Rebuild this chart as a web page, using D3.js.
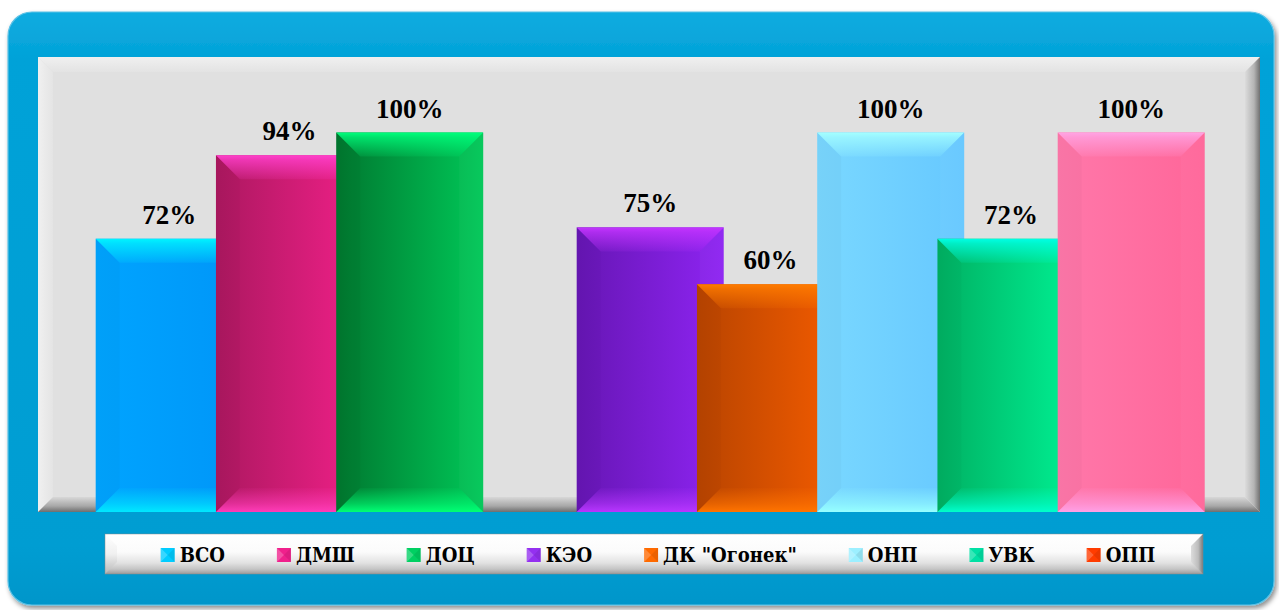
<!DOCTYPE html>
<html>
<head>
<meta charset="utf-8">
<script src="https://cdn.jsdelivr.net/npm/d3@7"></script>
<style>
  html, body { margin: 0; padding: 0; background: #ffffff; }
  svg { display: block; }
</style>
</head>
<body>
<script>
// ---- data ----
const series = ["ВСО", "ДМШ", "ДОЦ", "КЭО", "ДК \"Огонек\"", "ОНП", "УВК", "ОПП"];
const values = [0.72, 0.94, 1.00, 0.75, 0.60, 1.00, 0.72, 1.00];
// slot order along the axis (one empty slot between the two groups)
const slots = ["ВСО", "ДМШ", "ДОЦ", "_gap_", "КЭО", "ДК \"Огонек\"", "ОНП", "УВК", "ОПП"];
// bar colours: [bodyLeft, bodyRight, topBevel, bottomBevel]
const barColors = [
  ["#00a4ff", "#0096f8", "#00f4ff", "#00e8ff"],
  ["#ac1860", "#f02088", "#ff40cc", "#ff3cb8"],
  ["#00772f", "#00c858", "#00ff7c", "#00ff74"],
  ["#6616b4", "#8e24f2", "#c434ff", "#b836ff"],
  ["#b84400", "#f45c00", "#ff7c00", "#ff7400"],
  ["#7ad8ff", "#66c8ff", "#a4ffff", "#96ffff"],
  ["#00b062", "#00f496", "#00ffe4", "#00ffcc"],
  ["#ff78aa", "#ff6699", "#ffa4e4", "#ffa0e6"]
];
const legendColors = ["#00ccff", "#f0208c", "#00d062", "#9430f0", "#ff6a00", "#9cefff", "#00e0a4", "#ff3c00"];

const W = 1279, H = 610;
const svg = d3.select("body").append("svg").attr("width", W).attr("height", H);
const defs = svg.append("defs");

function linGrad(id, x1, y1, x2, y2, stops) {
  const g = defs.append("linearGradient").attr("id", id)
    .attr("x1", x1).attr("y1", y1).attr("x2", x2).attr("y2", y2);
  stops.forEach(s => g.append("stop").attr("offset", s[0]).attr("stop-color", s[1]).attr("stop-opacity", s[2] == null ? 1 : s[2]));
  return "url(#" + id + ")";
}

// ---- outer frame ----
const shadow = defs.append("filter").attr("id", "shadow").attr("x", "-5%").attr("y", "-5%").attr("width", "110%").attr("height", "115%");
shadow.append("feDropShadow").attr("dx", 2).attr("dy", 3).attr("stdDeviation", 2.5).attr("flood-color", "#000").attr("flood-opacity", 0.45);

svg.append("rect")
  .attr("x", 8).attr("y", 12).attr("width", 1266).attr("height", 593)
  .attr("rx", 24).attr("ry", 24)
  .attr("fill", linGrad("frameG", 0, 0, 0, 1, [[0, "#10ace0"], [0.08, "#02a2d8"], [0.9, "#009dd2"], [1, "#0096ca"]]))
  .attr("stroke", "#5cc2e6").attr("stroke-width", 1.2)
  .attr("filter", "url(#shadow)");

// ---- plot area with bevel ----
const P = { x0: 38, y0: 57, x1: 1260, y1: 512, b: 15 };
const plot = svg.append("g");
plot.append("rect").attr("x", P.x0).attr("y", P.y0).attr("width", P.x1 - P.x0).attr("height", P.y1 - P.y0).attr("fill", "#e0e0e0");
plot.append("polygon")
  .attr("points", [[P.x0, P.y0], [P.x1, P.y0], [P.x1 - P.b, P.y0 + P.b], [P.x0 + P.b, P.y0 + P.b]].join(" "))
  .attr("fill", linGrad("pTop", 0, 0, 0, 1, [[0, "#f0f0f0"], [1, "#e3e3e3"]]));
plot.append("polygon")
  .attr("points", [[P.x0, P.y0], [P.x0 + P.b, P.y0 + P.b], [P.x0 + P.b, P.y1 - P.b], [P.x0, P.y1]].join(" "))
  .attr("fill", linGrad("pLeft", 0, 0, 1, 0, [[0, "#f0f0f0"], [1, "#e4e4e4"]]));
plot.append("polygon")
  .attr("points", [[P.x0, P.y1], [P.x1, P.y1], [P.x1 - P.b, P.y1 - P.b], [P.x0 + P.b, P.y1 - P.b]].join(" "))
  .attr("fill", linGrad("pBot", 0, 0, 0, 1, [[0, "#d8d8d8"], [0.6, "#a8a8a8"], [1, "#6e6e6e"]]));
plot.append("polygon")
  .attr("points", [[P.x1, P.y0], [P.x1 - P.b, P.y0 + P.b], [P.x1 - P.b, P.y1 - P.b], [P.x1, P.y1]].join(" "))
  .attr("fill", linGrad("pRight", 0, 0, 1, 0, [[0, "#dcdcdc"], [0.6, "#b4b4b4"], [1, "#707070"]]));

// ---- scales ----
const x = d3.scaleBand().domain(slots).range([95.7, 95.7 + 9 * 120.25]).padding(0);
const barW = x.step() * 1.2225;
const y = d3.scaleLinear().domain([0, 1]).range([512, 132.5]);
const fmt = d3.format(".0%");

// ---- bars ----
const data = series.map((s, i) => ({ name: s, value: values[i], col: barColors[i], i }));
const bars = svg.append("g");
const bv = 24;
data.forEach(d => {
  const x0 = x(d.name), x1 = x0 + barW, y0 = y(d.value), y1 = y(0);
  const c = d.col;
  const g = bars.append("g");
  const bodyG = linGrad("body" + d.i, 0, 0, 1, 0, [[0, c[0]], [1, c[1]]]);
  g.append("rect").attr("x", x0).attr("y", y0).attr("width", barW).attr("height", y1 - y0).attr("fill", bodyG);
  g.append("polygon")
    .attr("points", [[x0, y0], [x0 + bv, y0 + bv], [x0 + bv, y1 - bv], [x0, y1]].join(" "))
    .attr("fill", "#000000").attr("fill-opacity", 0.025);
  g.append("polygon")
    .attr("points", [[x1, y0], [x1 - bv, y0 + bv], [x1 - bv, y1 - bv], [x1, y1]].join(" "))
    .attr("fill", "#ffffff").attr("fill-opacity", 0.03);
  const topG = linGrad("top" + d.i, 0, 0, 0, 1, [[0, c[2]], [0.2, c[2], 0.75], [1, c[2], 0.12]]);
  g.append("polygon")
    .attr("points", [[x0, y0], [x1, y0], [x1 - bv, y0 + bv], [x0 + bv, y0 + bv]].join(" "))
    .attr("fill", topG);
  const botG = linGrad("bot" + d.i, 0, 0, 0, 1, [[0, c[3], 0.05], [0.65, c[3], 0.6], [1, c[3]]]);
  g.append("polygon")
    .attr("points", [[x0, y1], [x1, y1], [x1 - bv, y1 - bv], [x0 + bv, y1 - bv]].join(" "))
    .attr("fill", botG);
});

// ---- value labels ----
svg.append("g").selectAll("text").data(data).join("text")
  .attr("x", d => x(d.name) + barW / 2)
  .attr("y", d => y(d.value) - 15)
  .attr("text-anchor", "middle")
  .attr("font-family", "'Liberation Serif', 'DejaVu Serif', serif")
  .attr("font-weight", "bold")
  .attr("font-size", 27)
  .attr("fill", "#000")
  .text(d => fmt(d.value));

// ---- legend ----
const L = { x0: 105, y0: 534, x1: 1203, y1: 574, b: 12 };
const leg = svg.append("g");
leg.append("rect").attr("x", L.x0).attr("y", L.y0).attr("width", L.x1 - L.x0).attr("height", L.y1 - L.y0)
  .attr("fill", linGrad("lBody", 0, 0, 0, 1, [[0, "#ffffff"], [0.45, "#fbfbfb"], [0.72, "#e2e2e2"], [0.88, "#c4c4c4"], [1, "#9a9a9a"]]));
leg.append("polygon")
  .attr("points", [[L.x0, L.y0], [L.x0 + L.b, L.y0 + L.b], [L.x0 + L.b, L.y1 - L.b], [L.x0, L.y1]].join(" "))
  .attr("fill", linGrad("lLeft", 0, 0, 0, 1, [[0, "#ffffff"], [0.5, "#f0f0f0"], [1, "#b8b8b8"]]));
leg.append("polygon")
  .attr("points", [[L.x1, L.y0], [L.x1 - L.b, L.y0 + L.b], [L.x1 - L.b, L.y1 - L.b], [L.x1, L.y1]].join(" "))
  .attr("fill", linGrad("lRight", 0, 0, 1, 0, [[0, "#dcdcdc"], [0.6, "#bdbdbd"], [1, "#7a7a7a"]]));
leg.append("rect").attr("x", L.x0).attr("y", L.y0).attr("width", L.x1 - L.x0).attr("height", L.y1 - L.y0)
  .attr("fill", "none").attr("stroke", "#8a8a8a").attr("stroke-width", 0.8).attr("stroke-opacity", 0.6);

const ms = 14, mGap = 5, itemGap = 52;
const items = leg.selectAll("g.item").data(series).join("g").attr("class", "item");
items.append("text")
  .attr("font-family", "'DejaVu Serif Condensed', 'DejaVu Serif', serif")
  .attr("font-stretch", "condensed")
  .attr("font-weight", "bold").attr("font-size", 20).attr("fill", "#000")
  .attr("y", 562)
  .text(d => d);
const widths = [];
items.select("text").each(function () { widths.push(this.getComputedTextLength()); });
const total = d3.sum(widths) + series.length * (ms + mGap) + (series.length - 1) * itemGap;
let cx = (L.x0 + L.x1) / 2 - total / 2 + 4;
items.each(function (d, i) {
  const g = d3.select(this);
  const mx = cx, my = 548;
  const col = legendColors[i];
  g.insert("rect", "text").attr("x", mx).attr("y", my).attr("width", ms).attr("height", ms).attr("fill", col);
  g.insert("polygon", "text").attr("points", [[mx, my], [mx + ms / 2, my + ms / 2], [mx, my + ms]].join(" "))
    .attr("fill", "#ffffff").attr("fill-opacity", 0.22);
  g.insert("polygon", "text").attr("points", [[mx + ms, my], [mx + ms / 2, my + ms / 2], [mx + ms, my + ms]].join(" "))
    .attr("fill", "#000000").attr("fill-opacity", 0.08);
  g.select("text").attr("x", mx + ms + mGap);
  cx += ms + mGap + widths[i] + itemGap;
});
</script>
</body>
</html>
